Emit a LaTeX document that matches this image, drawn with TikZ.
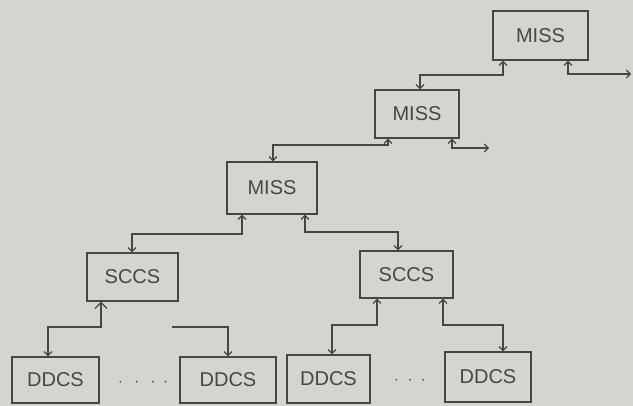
\documentclass[tikz,border=0pt]{standalone}
\usepackage{fontspec}
\setmainfont{Liberation Sans}
\usetikzlibrary{arrows.meta}
\definecolor{paper}{RGB}{213,213,208}
\definecolor{ink}{RGB}{70,70,68}
\tikzset{
  box/.style={draw=ink, line width=1.2pt, rectangle, inner sep=0pt, text=ink,
    font=\fontsize{20}{20}\selectfont},
  conn/.style={draw=ink, line width=1.2pt},
  both/.style={conn, {Straight Barb[length=4pt,width=8pt]}-{Straight Barb[length=4pt,width=8pt]}},
  bigboth/.style={conn, {Straight Barb[length=6pt,width=12pt]}-{Straight Barb[length=4pt,width=8pt]}},
  one/.style={conn, -{Straight Barb[length=4pt,width=8pt]}},
  dots/.style={text=ink, font=\fontsize{18}{18}\selectfont, inner sep=0pt}
}
\begin{document}
\begin{tikzpicture}[x=1pt,y=-1pt]
\fill[paper] (0,0) rectangle (633,406);
\useasboundingbox (0,0) rectangle (633,406);
% boxes
\node[box, minimum width=95pt, minimum height=49pt] (m1) at (540.5,35.5) {MISS};
\node[box, minimum width=84pt, minimum height=48pt] (m2) at (417,114) {MISS};
\node[box, minimum width=90pt, minimum height=52pt] (m3) at (272,188) {MISS};
\node[box, minimum width=91pt, minimum height=48pt] (s1) at (132.5,277) {SCCS};
\node[box, minimum width=93pt, minimum height=47pt] (s2) at (406.5,274.5) {SCCS};
\node[box, minimum width=87pt, minimum height=46pt] (d1) at (55.5,380) {DDCS};
\node[box, minimum width=96pt, minimum height=46pt] (d2) at (228,380) {DDCS};
\node[box, minimum width=83pt, minimum height=48pt] (d3) at (328.5,379) {DDCS};
\node[box, minimum width=86pt, minimum height=50pt] (d4) at (488,377) {DDCS};
\node[dots] (dotsA) at (143,383) {$\cdot\;\,\cdot\;\,\cdot\;\,\cdot$};
\node[dots] (dotsB) at (410,381) {$\cdot\;\cdot\;\cdot$};
% free ends
\coordinate (e1) at (631,74);
\coordinate (e2) at (489,148);
\coordinate (f1) at (172,327);
% connectors
\draw[both] (503,0 |- m1.south) |- (420,75) -- (420,0 |- m2.north);
\draw[both] (568,0 |- m1.south) |- (e1);
\draw[both] (388,0 |- m2.south) |- (273,145) -- (273,0 |- m3.north);
\draw[both] (452,0 |- m2.south) |- (e2);
\draw[both] (242,0 |- m3.south) |- (132,234) -- (132,0 |- s1.north);
\draw[both] (305,0 |- m3.south) |- (398,232) -- (398,0 |- s2.north);
\draw[bigboth] (101,0 |- s1.south) |- (48,327) -- (48,0 |- d1.north);
\draw[one] (f1) -| (228,0 |- d2.north);
\draw[both] (377,0 |- s2.south) |- (332,325) -- (332,0 |- d3.north);
\draw[both] (443,0 |- s2.south) |- (503,325) -- (503,0 |- d4.north);
\end{tikzpicture}
\end{document}
